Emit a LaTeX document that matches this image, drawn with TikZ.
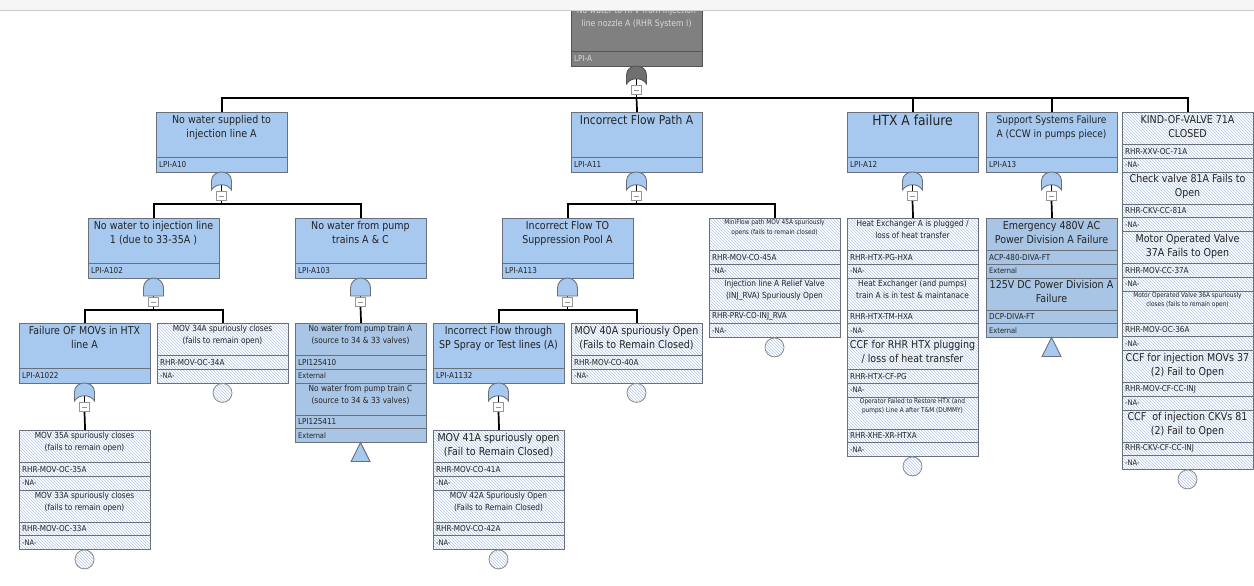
\documentclass[tikz,border=0pt]{standalone}
\usepackage{fontspec}
\setmainfont{DejaVu Sans}[FakeStretch=0.88]
\usetikzlibrary{patterns}
\definecolor{ifill}{RGB}{167,201,240}
\definecolor{xfill}{RGB}{169,197,229}
\definecolor{bord}{RGB}{105,112,122}
\definecolor{hatch}{RGB}{180,200,232}
\definecolor{tfill}{RGB}{128,128,128}
\definecolor{tbord}{RGB}{85,85,85}
\definecolor{ttext}{RGB}{218,218,218}
\definecolor{tgate}{RGB}{112,112,112}
\definecolor{txt}{RGB}{35,35,35}
\definecolor{mbord}{RGB}{150,150,150}
\definecolor{lbord}{RGB}{140,140,140}
\definecolor{stripc}{RGB}{246,246,246}
\definecolor{stripl}{RGB}{205,205,205}
\newcommand\FBig{\fontsize{10.8}{14}\selectfont}
\newcommand\FMed{\fontsize{8.4}{12}\selectfont}
\newcommand\FSml{\fontsize{6.6}{9.5}\selectfont}
\newcommand\FId{\fontsize{8.2}{10}\selectfont}
\newcommand\FNa{\fontsize{7.6}{9}\selectfont}
\newcommand\FHuge{\fontsize{14}{17}\selectfont}
\newcommand\FMid{\fontsize{12.2}{15}\selectfont}
\newcommand\FSup{\fontsize{10.3}{14}\selectfont}
\newcommand\FTop{\fontsize{8.8}{13}\selectfont}
\tikzset{
 ibox/.style={rectangle,draw=bord,line width=1.2pt,fill=ifill,minimum width=131pt,minimum height=60pt,inner sep=0pt},
 bev/.style={rectangle,draw=bord,line width=1.2pt,preaction={fill=white},pattern=north west lines,pattern color=hatch,minimum width=131pt,minimum height=59.5pt,inner sep=0pt},
 xev/.style={rectangle,draw=bord,line width=1.2pt,fill=xfill,minimum width=131pt,minimum height=59.5pt,inner sep=0pt},
 topbox/.style={rectangle,draw=tbord,line width=1.2pt,fill=tfill,minimum width=131pt,minimum height=68pt,inner sep=0pt},
 sepl/.style={draw=bord,line width=0.9pt},
 ttl/.style={align=center,inner sep=0pt,text=txt},
 tb/.style={font=\FBig,yshift=-3pt},
 tm/.style={font=\FMed,yshift=-2pt},
 ts/.style={font=\FSml,yshift=-1.5pt},
 idt/.style={inner sep=0pt,text=txt,font=\FId},
 nat/.style={inner sep=0pt,text=txt,font=\FNa},
 gatest/.style={draw=bord,line width=0.9pt,fill=ifill},
 topgate/.style={draw=tbord,line width=0.9pt,fill=tgate},
 minusb/.style={rectangle,draw=mbord,fill=white,line width=0.7pt,minimum size=9.5pt,inner sep=0pt},
 conn/.style={draw=black,line width=1.7pt},
 stub/.style={draw=black,line width=1pt},
 leaf/.style={circle,draw=lbord,line width=0.8pt,preaction={fill=white},pattern=north west lines,pattern color=hatch,minimum size=19pt,inner sep=0pt},
}
% intermediate event: name, x, y, font, title, id
\newcommand\IEv[6]{%
 \node[ibox,anchor=north west] (#1) at (#2,#3) {};
 \draw[sepl] (#2,#3+45) -- (#2+131,#3+45);
 \node[ttl,font=#4,anchor=north] (#1-t) at (#2+65.5,#3+3) {#5};
 \node[idt,anchor=west] (#1-i) at (#2+3,#3+52.5) {#6};
}
% basic / external event: name, x, y, box style, title style, title, id, third row
\newcommand\BEv[8]{%
 \node[#4,anchor=north west] (#1) at (#2,#3) {};
 \draw[sepl] (#2,#3+32.5) -- (#2+131,#3+32.5);
 \draw[sepl] (#2,#3+46) -- (#2+131,#3+46);
 \node[ttl,#5,anchor=north] (#1-t) at (#2+65.5,#3) {#6};
 \node[idt,anchor=west] (#1-i) at (#2+3,#3+39.25) {#7};
 \node[nat,anchor=west] (#1-n) at (#2+3,#3+52.75) {#8};
}
% OR gate: name of minus box, x, ytop, style
\newcommand\ORgate[4]{%
 \draw[stub] (#2,#3+12) -- (#2,#3+24);
 \path[#4] (#2-10,#3+18) -- (#2-10,#3+9) .. controls (#2-10,#3+3) and (#2-5,#3) .. (#2,#3) .. controls (#2+5,#3) and (#2+10,#3+3) .. (#2+10,#3+9) -- (#2+10,#3+18) .. controls (#2+6,#3+11) and (#2-6,#3+11) .. (#2-10,#3+18) -- cycle;
 \node[minusb] (#1) at (#2,#3+24) {};
 \draw[draw=mbord,line width=0.7pt] (#2-2.5,#3+24) -- (#2+2.5,#3+24);
}
% AND gate
\newcommand\ANDgate[4]{%
 \draw[stub] (#2,#3+17) -- (#2,#3+24);
 \path[#4] (#2-10,#3+18) -- (#2-10,#3+10) .. controls (#2-10,#3+4.5) and (#2-5.5,#3) .. (#2,#3) .. controls (#2+5.5,#3) and (#2+10,#3+4.5) .. (#2+10,#3+10) -- (#2+10,#3+18) -- cycle;
 \node[minusb] (#1) at (#2,#3+24) {};
 \draw[draw=mbord,line width=0.7pt] (#2-2.5,#3+24) -- (#2+2.5,#3+24);
}
\begin{document}
\begin{tikzpicture}[x=1pt,y=-1pt]
\useasboundingbox (0,0) rectangle (1254,586);
\fill[white] (0,0) rectangle (1254,586);

% ---------- top event ----------
\node[topbox,anchor=north west] (top) at (571,-2) {};
\draw[draw=tbord,line width=0.9pt] (571,51) -- (702,51);
\node[ttl,text=ttext,font=\FTop,anchor=north] (top-t) at (636.5,6.7) {No water to RPV from injection\\line nozzle A (RHR System I)};
\node[inner sep=0pt,text=ttext,font=\FId,anchor=west] (top-i) at (574,58.5) {LPI-A};
\fill[stripc] (0,0) rectangle (1254,10.5);
\draw[stripl,line width=0.8pt] (0,10.5) -- (1254,10.5);

% ---------- level 1 ----------
\IEv{A10}{156}{112}{\FBig}{No water supplied to\\injection line A}{LPI-A10}
\IEv{A11}{571}{112}{\FMid}{Incorrect Flow Path A}{LPI-A11}
\IEv{A12}{847}{112}{\FHuge}{HTX A failure}{LPI-A12}
\IEv{A13}{986}{112}{\FSup}{Support Systems Failure\\A (CCW in pumps piece)}{LPI-A13}

\BEv{R1}{1122}{112}{bev}{tb}{KIND-OF-VALVE 71A\\CLOSED}{RHR-XXV-OC-71A}{-NA-}
\BEv{R2}{1122}{171.5}{bev}{tb}{Check valve 81A Fails to\\Open}{RHR-CKV-CC-81A}{-NA-}
\BEv{R3}{1122}{231}{bev}{tb}{Motor Operated Valve\\37A Fails to Open}{RHR-MOV-CC-37A}{-NA-}
\BEv{R4}{1122}{290.5}{bev}{ts}{Motor Operated Valve 36A spuriously\\closes (fails to remain open)}{RHR-MOV-OC-36A}{-NA-}
\BEv{R5}{1122}{350}{bev}{tb}{CCF for injection MOVs 37\\(2) Fail to Open}{RHR-MOV-CF-CC-INJ}{-NA-}
\BEv{R6}{1122}{409.5}{bev}{tb}{CCF\ \ of injection CKVs 81\\(2) Fail to Open}{RHR-CKV-CF-CC-INJ}{-NA-}
\node[leaf,anchor=north] (R-c) at (1187.5,469.5) {};

% ---------- level 2 ----------
\IEv{A102}{88}{218}{\FBig}{No water to injection line\\1 (due to 33-35A )}{LPI-A102}
\IEv{A103}{295}{218}{\FBig}{No water from pump\\trains A \& C}{LPI-A103}
\IEv{A113}{502}{218}{\FBig}{Incorrect Flow TO\\Suppression Pool A}{LPI-A113}

\BEv{E45}{709}{218}{bev}{ts}{MiniFlow path MOV 45A spuriously\\opens (fails to remain closed)}{RHR-MOV-CO-45A}{-NA-}
\BEv{E45b}{709}{277.5}{bev}{tm}{Injection line A Relief Valve\\(INJ\_RVA) Spuriously Open}{RHR-PRV-CO-INJ\_RVA}{-NA-}
\node[leaf,anchor=north] (E45-c) at (774.5,337.5) {};

\BEv{H1}{847}{218}{bev}{tm}{Heat Exchanger A is plugged /\\loss of heat transfer}{RHR-HTX-PG-HXA}{-NA-}
\BEv{H2}{847}{277.5}{bev}{tm}{Heat Exchanger (and pumps)\\train A is in test \& maintanace}{RHR-HTX-TM-HXA}{-NA-}
\BEv{H3}{847}{337}{bev}{tb}{CCF for RHR HTX plugging\\/ loss of heat transfer}{RHR-HTX-CF-PG}{-NA-}
\BEv{H4}{847}{396.5}{bev}{ts}{Operator Failed to Restore HTX (and\\pumps) Line A after T\&M (DUMMY)}{RHR-XHE-XR-HTXA}{-NA-}
\node[leaf,anchor=north] (H-c) at (912.5,456.5) {};

\BEv{X1}{986}{218}{xev}{tb}{Emergency 480V AC\\Power Division A Failure}{ACP-480-DIVA-FT}{External}
\BEv{X2}{986}{277.5}{xev}{tb}{125V DC Power Division A\\Failure}{DCP-DIVA-FT}{External}
\path[gatest] (1042,356.5) -- (1051.5,337.5) -- (1061,356.5) -- cycle;

% ---------- level 3 ----------
\IEv{A1022}{19}{323}{\FBig}{Failure OF MOVs in HTX\\line A}{LPI-A1022}
\BEv{E34}{157}{323}{bev}{tm}{MOV 34A spuriously closes\\(fails to remain open)}{RHR-MOV-OC-34A}{-NA-}
\node[leaf,anchor=north] (E34-c) at (222.5,383) {};

\BEv{P1}{295}{323}{xev}{tm}{No water from pump train A\\(source to 34 \& 33 valves)}{LPI125410}{External}
\BEv{P2}{295}{382.5}{xev}{tm}{No water from pump train C\\(source to 34 \& 33 valves)}{LPI125411}{External}
\path[gatest] (351,461.5) -- (360.5,442.5) -- (370,461.5) -- cycle;

\IEv{A1132}{433}{323}{\FBig}{Incorrect Flow through\\SP Spray or Test lines (A)}{LPI-A1132}
\BEv{E40}{571}{323}{bev}{tb}{MOV 40A spuriously Open\\(Fails to Remain Closed)}{RHR-MOV-CO-40A}{-NA-}
\node[leaf,anchor=north] (E40-c) at (636.5,383) {};

% ---------- level 4 ----------
\BEv{M35}{19}{430}{bev}{tm}{MOV 35A spuriously closes\\(fails to remain open)}{RHR-MOV-OC-35A}{-NA-}
\BEv{M33}{19}{489.5}{bev}{tm}{MOV 33A spuriously closes\\(fails to remain open)}{RHR-MOV-OC-33A}{-NA-}
\node[leaf,anchor=north] (M-c) at (84.5,549.5) {};

\BEv{M41}{433}{430}{bev}{tb}{MOV 41A spuriously open\\(Fail to Remain Closed)}{RHR-MOV-CO-41A}{-NA-}
\BEv{M42}{433}{489.5}{bev}{tm}{MOV 42A Spuriously Open\\(Fails to Remain Closed)}{RHR-MOV-CO-42A}{-NA-}
\node[leaf,anchor=north] (M4-c) at (498.5,549.5) {};

% ---------- gates ----------
\ORgate{g0}{636.5}{66}{topgate}
\ORgate{g10}{221.5}{172}{gatest}
\ORgate{g11}{636.5}{172}{gatest}
\ORgate{g12}{912.5}{172}{gatest}
\ORgate{g13}{1051.5}{172}{gatest}
\ANDgate{g102}{153.5}{278}{gatest}
\ANDgate{g103}{360.5}{278}{gatest}
\ANDgate{g113}{567.5}{278}{gatest}
\ORgate{g1022}{84.5}{383}{gatest}
\ORgate{g1132}{498.5}{383}{gatest}

% ---------- connectors ----------
\coordinate (j0) at (636.5,98);
\draw[conn] (g0.south) -- (j0);
\draw[conn] (j0) -| (A10.north);
\draw[conn] (j0) -- (A11.north);
\draw[conn] (j0) -| (A12.north);
\draw[conn] (j0) -| (A13.north);
\draw[conn] (j0) -| (R1.north);

\coordinate (j10) at (221.5,204);
\draw[conn] (g10.south) -- (j10);
\draw[conn] (j10) -| (A102.north);
\draw[conn] (j10) -| (A103.north);

\coordinate (j11) at (636.5,204);
\draw[conn] (g11.south) -- (j11);
\draw[conn] (j11) -| (A113.north);
\draw[conn] (j11) -| (E45.north);

\draw[conn] (g12.south) -- (H1.north);
\draw[conn] (g13.south) -- (X1.north);

\coordinate (j102) at (153.5,310);
\draw[conn] (g102.south) -- (j102);
\draw[conn] (j102) -| (A1022.north);
\draw[conn] (j102) -| (E34.north);

\draw[conn] (g103.south) -- (P1.north);

\coordinate (j113) at (567.5,310);
\draw[conn] (g113.south) -- (j113);
\draw[conn] (j113) -| (A1132.north);
\draw[conn] (j113) -| (E40.north);

\draw[conn] (g1022.south) -- (M35.north);
\draw[conn] (g1132.south) -- (M41.north);
\end{tikzpicture}
\end{document}
